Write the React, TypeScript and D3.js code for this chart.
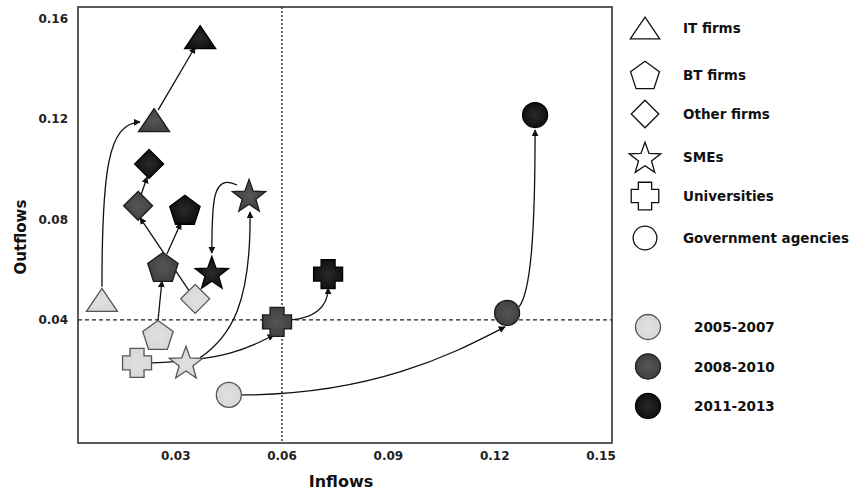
import React from "react";
import * as d3 from "d3";

// ---------- data ----------
const periods = ["2005-2007", "2008-2010", "2011-2013"];
const groups = ["IT firms", "BT firms", "Other firms", "SMEs", "Universities", "Government agencies"];
const shapes = ["triangle", "pentagon", "diamond", "star", "cross", "circle"];
// inflows per group, by period
const inflowIT = [0.0092, 0.0239, 0.0369];
const inflowBT = [0.025, 0.0264, 0.0326];
const inflowOther = [0.0355, 0.0194, 0.0225];
const inflowSME = [0.0329, 0.0507, 0.0402];
const inflowUniv = [0.0191, 0.0586, 0.073];
const inflowGov = [0.045, 0.1235, 0.1314];
// outflows per group, by period
const outflowIT = [0.048, 0.1197, 0.1528];
const outflowBT = [0.034, 0.0611, 0.0839];
const outflowOther = [0.0484, 0.0855, 0.1022];
const outflowSME = [0.0233, 0.0898, 0.0591];
const outflowUniv = [0.0229, 0.0392, 0.0583];
const outflowGov = [0.0101, 0.0428, 0.1217];
const xTicks = [0.03, 0.06, 0.09, 0.12, 0.15];
const yTicks = [0.04, 0.08, 0.12, 0.16];
const xRef = 0.06;
const yRef = 0.04;

const inflows = [inflowIT, inflowBT, inflowOther, inflowSME, inflowUniv, inflowGov];
const outflows = [outflowIT, outflowBT, outflowOther, outflowSME, outflowUniv, outflowGov];

// ---------- layout ----------
const W = 856, H = 495;
const L = 78, R = 612, T = 7, B = 443;
const x = d3.scaleLinear().domain([0.00244, 0.1531]).range([L, R]);
const y = d3.scaleLinear().domain([-0.00908, 0.16478]).range([B, T]);

const fills = ["#d6d6d6", "#3e3e3e", "#0b0b0b"];
const strokes = ["#555", "#1c1c1c", "#000"];

function shapePath(shape: string, cx: number, cy: number, s = 1): string {
  const p = d3.path();
  if (shape === "triangle") {
    const w = 31 * s, h = 23 * s;
    p.moveTo(cx, cy - h / 2);
    p.lineTo(cx + w / 2, cy + h / 2);
    p.lineTo(cx - w / 2, cy + h / 2);
    p.closePath();
  } else if (shape === "pentagon") {
    const r = 16 * s;
    for (let i = 0; i < 5; i++) {
      const a = -Math.PI / 2 + (i * 2 * Math.PI) / 5;
      const px = cx + r * Math.cos(a), py = cy + 1.5 * s + r * Math.sin(a);
      i === 0 ? p.moveTo(px, py) : p.lineTo(px, py);
    }
    p.closePath();
  } else if (shape === "diamond") {
    const r = 14.5 * s;
    p.moveTo(cx, cy - r);
    p.lineTo(cx + r, cy);
    p.lineTo(cx, cy + r);
    p.lineTo(cx - r, cy);
    p.closePath();
  } else if (shape === "star") {
    const ro = 17.5 * s, ri = 7.2 * s;
    for (let i = 0; i < 10; i++) {
      const r = i % 2 === 0 ? ro : ri;
      const a = -Math.PI / 2 + (i * Math.PI) / 5;
      const px = cx + r * Math.cos(a), py = cy + 2 * s + r * Math.sin(a);
      i === 0 ? p.moveTo(px, py) : p.lineTo(px, py);
    }
    p.closePath();
  } else if (shape === "cross") {
    const b = 14.5 * s, a = 7 * s;
    const pts = [
      [-a, -b], [a, -b], [a, -a], [b, -a], [b, a], [a, a], [a, b], [-a, b], [-a, a], [-b, a], [-b, -a], [-a, -a],
    ];
    pts.forEach(([dx, dy], i) => (i === 0 ? p.moveTo(cx + dx, cy + dy) : p.lineTo(cx + dx, cy + dy)));
    p.closePath();
  } else {
    p.arc(cx, cy, 12.5 * s, 0, 2 * Math.PI);
    p.closePath();
  }
  return p.toString();
}

// arrows: group, from period, to period, start/end offsets and control offsets (px)
type Arrow = { g: number; a: number; b: number; so: number[]; eo: number[]; c1?: number[]; c2?: number[] };
const arrows: Arrow[] = [
  { g: 0, a: 0, b: 1, so: [0, -13], eo: [-14, 2], c1: [0, -116], c2: [-32, 1] },
  { g: 0, a: 1, b: 2, so: [4, -10], eo: [-5, 10] },
  { g: 1, a: 0, b: 1, so: [0, -14], eo: [-1, 14] },
  { g: 1, a: 1, b: 2, so: [4, -13], eo: [-4, 13] },
  { g: 2, a: 0, b: 1, so: [-6, -8], eo: [2, 12] },
  { g: 2, a: 1, b: 2, so: [3, -11], eo: [-2, 13] },
  { g: 3, a: 0, b: 1, so: [14, -4], eo: [1, 17], c1: [32, -22], c2: [1, 90] },
  { g: 3, a: 1, b: 2, so: [-12, -10], eo: [0, -19], c1: [-25, -12], c2: [0, -50] },
  { g: 4, a: 0, b: 1, so: [15, 0], eo: [-3, 13], c1: [80, -3], c2: [-20, 10] },
  { g: 4, a: 1, b: 2, so: [14, -2], eo: [0, 14], c1: [22, -2], c2: [0, 20] },
  { g: 5, a: 0, b: 1, so: [13, 0], eo: [-2, 14], c1: [140, 0], c2: [-40, 20] },
  { g: 5, a: 1, b: 2, so: [12, -6], eo: [0, 15], c1: [12, -16], c2: [0, 101] },
];

function arrowPath(ar: Arrow): string {
  const sx = x(inflows[ar.g][ar.a]) + ar.so[0];
  const sy = y(outflows[ar.g][ar.a]) + ar.so[1];
  const ex = x(inflows[ar.g][ar.b]) + ar.eo[0];
  const ey = y(outflows[ar.g][ar.b]) + ar.eo[1];
  const p = d3.path();
  p.moveTo(sx, sy);
  if (ar.c1 && ar.c2) {
    p.bezierCurveTo(sx + ar.c1[0], sy + ar.c1[1], ex + ar.c2[0], ey + ar.c2[1], ex, ey);
  } else {
    p.lineTo(ex, ey);
  }
  return p.toString();
}

const font = "'DejaVu Sans', Verdana, sans-serif";

export default function App() {
  return (
    <svg width={W} height={H} style={{ position: "absolute", left: 0, top: 0, background: "#fff" }} fontFamily={font}>
      <defs>
        <marker id="ah" viewBox="0 0 10 10" refX="9" refY="5" markerWidth="7" markerHeight="7" markerUnits="userSpaceOnUse" orient="auto">
          <path d="M0,0 L10,5 L0,10 z" fill="#111" />
        </marker>
        {fills.map((f, i) => (
          <radialGradient key={i} id={`g${i}`} cx="50%" cy="50%" r="60%">
            <stop offset="0%" stopColor={i === 0 ? "#e0e0e0" : i === 1 ? "#555" : "#2a2a2a"} />
            <stop offset="100%" stopColor={f} />
          </radialGradient>
        ))}
      </defs>

      {/* reference lines */}
      <line x1={x(xRef)} x2={x(xRef)} y1={T} y2={B} stroke="#222" strokeWidth={1.3} strokeDasharray="2,2" />
      <line x1={L} x2={R} y1={y(yRef)} y2={y(yRef)} stroke="#222" strokeWidth={1.3} strokeDasharray="4,3" />

      {/* frame */}
      <rect x={L} y={T} width={R - L} height={B - T} fill="none" stroke="#333" strokeWidth={1.6} />

      {/* ticks */}
      {xTicks.map((t) => (
        <text key={t} x={x(t)} y={B + 17} textAnchor="middle" fontSize={12} fontWeight={600} fill="#222">
          {t.toFixed(2)}
        </text>
      ))}
      {yTicks.map((t) => (
        <text key={t} x={68} y={y(t) + 4} textAnchor="end" fontSize={12} fontWeight={600} fill="#222">
          {t.toFixed(2)}
        </text>
      ))}

      {/* axis titles */}
      <text x={341} y={487} textAnchor="middle" fontSize={16} fontWeight="bold" fill="#111">Inflows</text>
      <text transform="translate(26,237) rotate(-90)" textAnchor="middle" fontSize={15} fontWeight="bold" fill="#111">Outflows</text>

      {/* arrows */}
      {arrows.map((ar, i) => (
        <path key={i} d={arrowPath(ar)} fill="none" stroke="#111" strokeWidth={1.3} markerEnd="url(#ah)" />
      ))}

      {/* markers */}
      {groups.map((g, gi) =>
        periods.map((p, pi) => (
          <path
            key={g + p}
            d={shapePath(shapes[gi], x(inflows[gi][pi]), y(outflows[gi][pi]))}
            fill={`url(#g${pi})`}
            stroke={strokes[pi]}
            strokeWidth={1.3}
          />
        ))
      )}

      {/* legend: groups */}
      {groups.map((g, i) => {
        const ly = [28, 75, 114, 157, 196, 238][i];
        return (
          <g key={g}>
            <path d={shapePath(shapes[i], 645, ly, 0.95)} fill="#fff" stroke="#111" strokeWidth={1.3} />
            <text x={683} y={ly + 5} fontSize={13.5} fontWeight="bold" fill="#111">{g}</text>
          </g>
        );
      })}

      {/* legend: periods */}
      {periods.map((p, i) => {
        const ly = 327 + i * 39.5;
        return (
          <g key={p}>
            <circle cx={648} cy={ly} r={12.5} fill={`url(#g${i})`} stroke={strokes[i]} strokeWidth={1.3} />
            <text x={694} y={ly + 5} fontSize={13.5} fontWeight="bold" fill="#111">{p}</text>
          </g>
        );
      })}
    </svg>
  );
}
